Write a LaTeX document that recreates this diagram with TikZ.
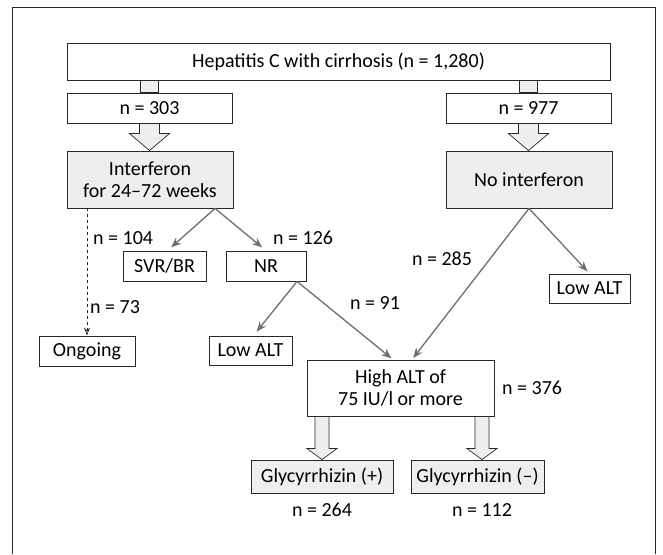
\documentclass[tikz,border=0pt]{standalone}
\usepackage{fontspec}
\setmainfont{Carlito}
\usetikzlibrary{positioning}
\usetikzlibrary{calc}
\usetikzlibrary{arrows.meta}
\definecolor{boxline}{RGB}{40,40,40}
\definecolor{arrline}{RGB}{110,110,110}
\definecolor{shade}{RGB}{238,238,238}
\tikzset{
    box/.style={draw=boxline, line width=0.9pt, fill=white, inner sep=0pt, align=center},
    shadebox/.style={box, fill=shade},
    lbl/.style={inner sep=0pt},
    branch/.style={draw=arrline, line width=1.3pt, -{Stealth[length=10pt,width=8pt]}, shorten >=5pt},
    fat/.style={draw=boxline, line width=0.7pt, fill=shade},
}
% block arrow: start, end, half shaft, half head, head length
\newcommand{\fatarrow}[5]{%
    \draw[fat] let \p1=(#1), \p2=(#2) in
        (\x1-#3pt,\y1) -- (\x1-#3pt,\y2+#5pt) -- (\x1-#4pt,\y2+#5pt) -- (\x1,\y2)
        -- (\x1+#4pt,\y2+#5pt) -- (\x1+#3pt,\y2+#5pt) -- (\x1+#3pt,\y1) -- cycle;
}

\begin{document}
\begin{tikzpicture}[x=1pt, y=-1pt, >=latex, font=\fontsize{20}{22}\selectfont]
    \useasboundingbox (0,0) rectangle (663,554);
    \draw[boxline, line width=0.8pt] (12,554) -- (12,7) -- (655,7) -- (655,554);

    \node[box, minimum width=543pt, minimum height=37pt] (hep) at (338.5,61.5) {Hepatitis C with cirrhosis (n = 1,280)};
    \node[box, minimum width=165pt, minimum height=30pt] (nifn) at (149.5,108) {n = 303};
    \node[box, minimum width=165pt, minimum height=30pt] (nno) at (528.5,108) {n = 977};
    \node[shadebox, minimum width=166pt, minimum height=57pt] (ifn) at (150,179.5) {Interferon\\for 24--72 weeks};
    \node[shadebox, minimum width=166pt, minimum height=57pt] (noifn) at (529,179.5) {No interferon};
    \node[box, minimum width=83pt, minimum height=30pt] (svr) at (164.5,266) {SVR/BR};
    \node[box, minimum width=80pt, minimum height=30pt] (nr) at (266,266) {NR};
    \node[box, minimum width=81pt, minimum height=29pt] (lowr) at (589.5,288.5) {Low ALT};
    \node[box, minimum width=96pt, minimum height=30pt] (ongo) at (87,351) {Ongoing};
    \node[box, minimum width=83pt, minimum height=29pt] (lowm) at (250.5,350.5) {Low ALT};
    \node[box, minimum width=187pt, minimum height=56pt] (high) at (400.5,388) {High ALT of\\75 IU/l or more};
    \node[shadebox, minimum width=142pt, minimum height=33pt] (glyp) at (322,476.5) {Glycyrrhizin (+)};
    \node[shadebox, minimum width=133pt, minimum height=33pt] (glym) at (477.5,476.5) {Glycyrrhizin (--)};

    % counts
    \node[lbl, anchor=west] (c104) at (93,238) {n = 104};
    \node[lbl, anchor=west] (c126) at (273,238) {n = 126};
    \node[lbl, anchor=west] (c73) at (90,307) {n = 73};
    \node[lbl] (c285) at (442,259) {n = 285};
    \node[lbl] (c91) at (375,303) {n = 91};
    \node[lbl, anchor=west] (c376) at (502,388) {n = 376};
    \node[lbl] (c264) at (322,510) {n = 264};
    \node[lbl] (c112) at (482,510) {n = 112};

    % stubs under the top box
    \draw[fat] ($(hep.south -| nifn.north)+(-9,0)$) rectangle ($(nifn.north)+(9,0)$);
    \draw[fat] ($(hep.south -| nno.north)+(-9,0)$) rectangle ($(nno.north)+(9,0)$);

    % block arrows
    \fatarrow{nifn.south}{ifn.north}{10}{20}{17}
    \fatarrow{nno.south}{noifn.north}{10}{20}{17}
    \fatarrow{high.south -| glyp.north}{glyp.north}{7}{15}{11}
    \coordinate (glymin) at ($(glym.north)+(4.5,0)$);
    \fatarrow{high.south -| glymin}{glymin}{7}{15}{11}

    % branches
    \coordinate (ifnfork) at ($(ifn.south)+(65,0)$);
    \coordinate (nrfork) at ($(nr.south)+(31,0)$);
    \coordinate (highl) at ($(high.north)+(-7.5,0)$);
    \coordinate (highr) at ($(high.north)+(11.5,0)$);
    \draw[boxline, line width=0.8pt, dashed, -{Stealth[open,length=8pt,width=6pt]}] (ongo.north |- ifn.south) -- (ongo.north);
    \draw[branch] (ifnfork) -- ($(svr.north)+(3,0)$);
    \draw[branch] (ifnfork) -- (nr.north);
    \draw[branch] (nrfork) -- ($(lowm.north)+(3,0)$);
    \draw[branch, shorten >=2pt] (nrfork) -- (highl);
    \draw[branch, shorten >=2pt] (noifn.south) -- (highr);
    \draw[branch, shorten >=3pt] (noifn.south) -- (lowr.north);
\end{tikzpicture}
\end{document}
